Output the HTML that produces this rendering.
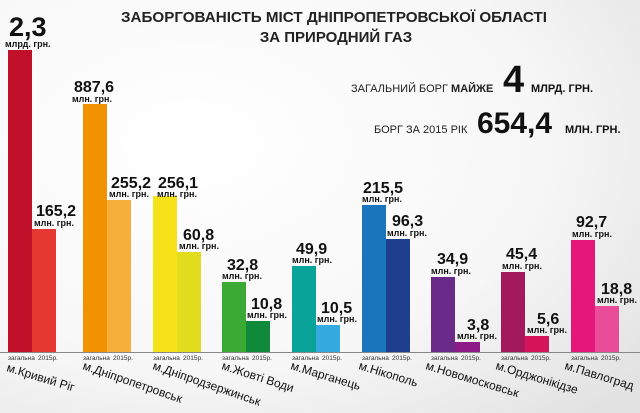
<!DOCTYPE html>
<html><head><meta charset="utf-8"><style>
html,body{margin:0;padding:0;background:#fff}
svg{display:block}
text{font-family:"Liberation Sans","DejaVu Sans",sans-serif}
.v{font-weight:bold;font-size:16px;fill:#111}
.u{font-weight:bold;font-size:9px;fill:#111}
.c{font-size:6.5px;fill:#333}
.n{font-size:12px;fill:#111}
</style></head><body>
<svg width="640" height="413" viewBox="0 0 640 413" xmlns="http://www.w3.org/2000/svg">
<defs>
<radialGradient id="bg" cx="0.3" cy="0.35" r="0.9">
<stop offset="0" stop-color="#ffffff"/><stop offset="0.6" stop-color="#f7f7f7"/><stop offset="1" stop-color="#e2e2e2"/>
</radialGradient>
</defs>
<rect width="640" height="413" fill="url(#bg)"/>
<text x="121" y="22" font-weight="bold" font-size="15" fill="#222" textLength="426" lengthAdjust="spacingAndGlyphs">ЗАБОРГОВАНІСТЬ МІСТ ДНІПРОПЕТРОВСЬКОЇ ОБЛАСТІ</text>
<text x="336" y="42" text-anchor="middle" font-weight="bold" font-size="15" fill="#222">ЗА ПРИРОДНИЙ ГАЗ</text>
<text x="351" y="92" font-size="11" fill="#222">ЗАГАЛЬНИЙ БОРГ <tspan font-weight="bold">МАЙЖЕ</tspan></text>
<text x="503" y="92" font-size="38" font-weight="bold" fill="#111">4</text>
<text x="531" y="92" font-size="11" font-weight="bold" fill="#111">МЛРД. ГРН.</text>
<text x="374" y="133" font-size="11" fill="#222">БОРГ ЗА 2015 РІК</text>
<text x="477" y="133" font-size="30" font-weight="bold" fill="#111">654,4</text>
<text x="565" y="133" font-size="11" font-weight="bold" fill="#111">МЛН. ГРН.</text>
<line x1="0" y1="352.5" x2="640" y2="352.5" stroke="#888" stroke-width="1"/>
<rect x="8" y="50" width="24" height="302" fill="#c0102a"/>
<rect x="32" y="229" width="24" height="123" fill="#e53830"/>
<rect x="83" y="104" width="24" height="248" fill="#f39200"/>
<rect x="107" y="200" width="24" height="152" fill="#f6b03a"/>
<rect x="153" y="196" width="24" height="156" fill="#f7e21a"/>
<rect x="177" y="252" width="24" height="100" fill="#e2dc1e"/>
<rect x="222" y="282" width="24" height="70" fill="#3aaa35"/>
<rect x="246" y="321" width="24" height="31" fill="#0e8a3a"/>
<rect x="292" y="266" width="24" height="86" fill="#0aa39a"/>
<rect x="316" y="325" width="24" height="27" fill="#35aadf"/>
<rect x="362" y="205" width="24" height="147" fill="#1b75bc"/>
<rect x="386" y="239" width="24" height="113" fill="#1d3f8d"/>
<rect x="431" y="277" width="24" height="75" fill="#6a2a8a"/>
<rect x="455" y="342" width="25" height="10" fill="#8e1a88"/>
<rect x="501" y="272" width="24" height="80" fill="#a3195b"/>
<rect x="525" y="336" width="24" height="16" fill="#d6145a"/>
<rect x="571" y="240" width="24" height="112" fill="#e5177b"/>
<rect x="595" y="306" width="24" height="46" fill="#e94c98"/>
<text x="9" y="36" font-size="27" font-weight="bold" fill="#111">2,3</text>
<text x="5" y="47" class="u">млрд. грн.</text>
<text x="36" y="216" class="v">165,2</text><text x="34" y="226" class="u">млн. грн.</text>
<text x="74" y="92" class="v">887,6</text><text x="72" y="102" class="u">млн. грн.</text>
<text x="111" y="188" class="v">255,2</text><text x="109" y="197" class="u">млн. грн.</text>
<text x="158" y="188" class="v">256,1</text><text x="157" y="197" class="u">млн. грн.</text>
<text x="183" y="240" class="v">60,8</text><text x="179" y="249" class="u">млн. грн.</text>
<text x="227" y="270" class="v">32,8</text><text x="222" y="279" class="u">млн. грн.</text>
<text x="251" y="309" class="v">10,8</text><text x="247" y="318" class="u">млн. грн.</text>
<text x="296" y="254" class="v">49,9</text><text x="292" y="263" class="u">млн. грн.</text>
<text x="321" y="313" class="v">10,5</text><text x="317" y="322" class="u">млн. грн.</text>
<text x="363" y="193" class="v">215,5</text><text x="362" y="202" class="u">млн. грн.</text>
<text x="392" y="226" class="v">96,3</text><text x="387" y="236" class="u">млн. грн.</text>
<text x="437" y="264" class="v">34,9</text><text x="431" y="274" class="u">млн. грн.</text>
<text x="467" y="330" class="v">3,8</text><text x="457" y="339" class="u">млн. грн.</text>
<text x="506" y="259" class="v">45,4</text><text x="502" y="269" class="u">млн. грн.</text>
<text x="537" y="324" class="v">5,6</text><text x="527" y="333" class="u">млн. грн.</text>
<text x="576" y="227" class="v">92,7</text><text x="572" y="237" class="u">млн. грн.</text>
<text x="601" y="294" class="v">18,8</text><text x="597" y="303" class="u">млн. грн.</text>
<text x="8" y="360" class="c">загальна</text><text x="38" y="360" class="c">2015р.</text>
<text x="83" y="360" class="c">загальна</text><text x="113" y="360" class="c">2015р.</text>
<text x="153" y="360" class="c">загальна</text><text x="183" y="360" class="c">2015р.</text>
<text x="222" y="360" class="c">загальна</text><text x="252" y="360" class="c">2015р.</text>
<text x="292" y="360" class="c">загальна</text><text x="322" y="360" class="c">2015р.</text>
<text x="362" y="360" class="c">загальна</text><text x="392" y="360" class="c">2015р.</text>
<text x="431" y="360" class="c">загальна</text><text x="461" y="360" class="c">2015р.</text>
<text x="501" y="360" class="c">загальна</text><text x="531" y="360" class="c">2015р.</text>
<text x="571" y="360" class="c">загальна</text><text x="601" y="360" class="c">2015р.</text>
<text class="n" transform="translate(6,371) rotate(17)">м.Кривий Ріг</text>
<text class="n" transform="translate(82,369) rotate(19)">м.Дніпропетровськ</text>
<text class="n" transform="translate(152,369) rotate(19)">м.Дніпродзержинськ</text>
<text class="n" transform="translate(221,369) rotate(18)">м.Жовті Води</text>
<text class="n" transform="translate(290,369) rotate(17)">м.Марганець</text>
<text class="n" transform="translate(358,369) rotate(17)">м.Нікополь</text>
<text class="n" transform="translate(425,369) rotate(17)">м.Новомосковськ</text>
<text class="n" transform="translate(495,369) rotate(17)">м.Орджонікідзе</text>
<text class="n" transform="translate(564,369) rotate(17)">м.Павлоград</text>
</svg>
</body></html>
